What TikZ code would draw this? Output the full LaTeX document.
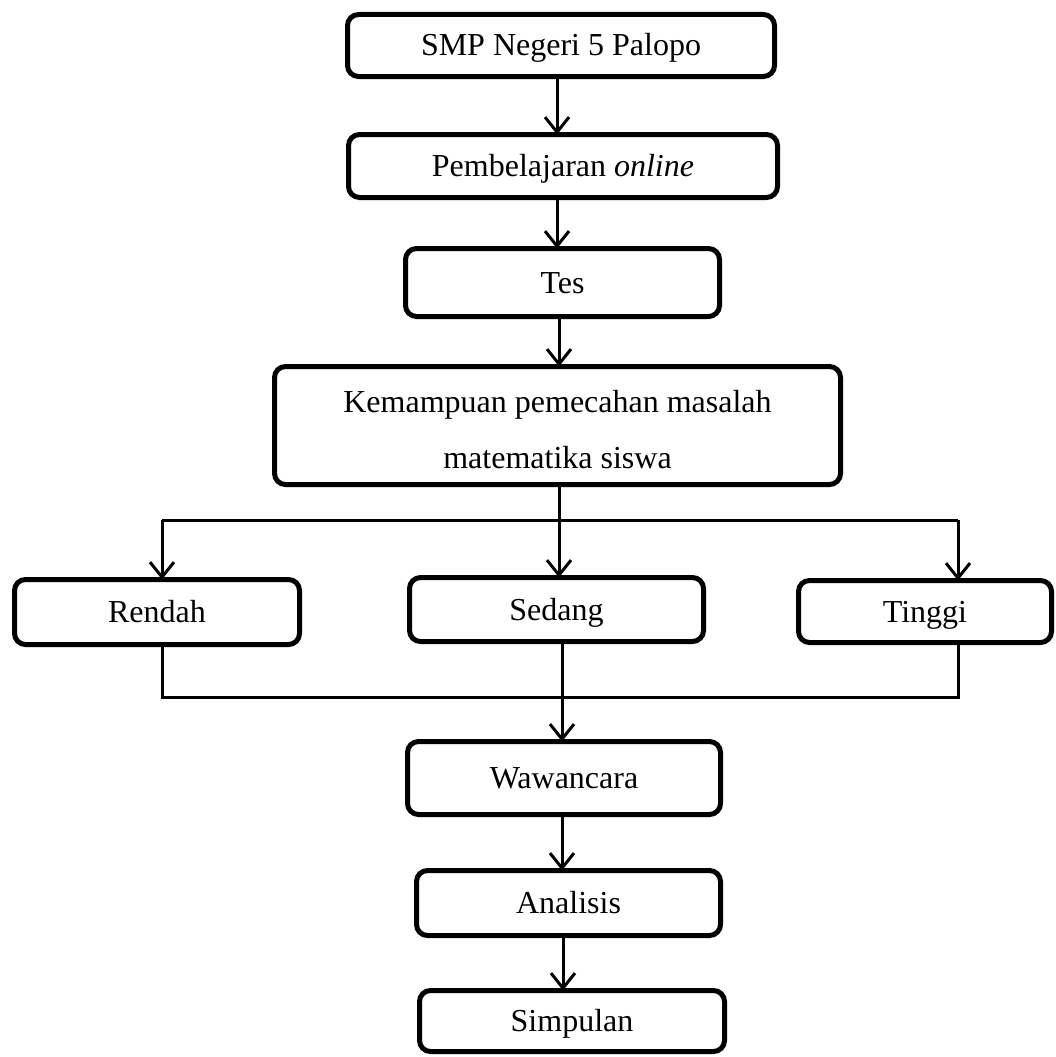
\documentclass[tikz,border=0pt]{standalone}
\usepackage{fontspec}
\setmainfont{Liberation Serif}
\usetikzlibrary{arrows.meta}
\begin{document}
\begin{tikzpicture}[x=1pt,y=-1pt,
  box/.style={draw=black, line width=5pt, rounded corners=11pt, inner sep=0pt, outer sep=0pt,
    align=center, font=\fontsize{32}{56}\selectfont, text height=21pt, text depth=0pt},
  conn/.style={draw=black, line width=3pt},
  arr/.style={conn, -{Straight Barb[length=15pt,width=24pt]}}]
\useasboundingbox (0,0) rectangle (1055,1057);
\fill[white] (0,0) rectangle (1055,1057);
\node[box, minimum width=427pt, minimum height=62pt] (smp) at (561,45.5) {SMP Negeri 5 Palopo};
\node[box, minimum width=429pt, minimum height=63pt] (pem) at (563,166) {Pembelajaran \textit{online}};
\node[box, minimum width=314pt, minimum height=68pt] (tes) at (562.5,282.5) {Tes};
\node[box, minimum width=566pt, minimum height=118pt, text height=85pt] (kem) at (557.5,425.5) {Kemampuan pemecahan masalah\\matematika siswa};
\node[box, minimum width=285pt, minimum height=65pt] (ren) at (157,612) {Rendah};
\node[box, minimum width=294pt, minimum height=64pt] (sed) at (556.5,609.5) {Sedang};
\node[box, minimum width=253pt, minimum height=62pt] (tin) at (925,611.5) {Tinggi};
\node[box, minimum width=313pt, minimum height=73pt] (waw) at (564,778) {Wawancara};
\node[box, minimum width=304pt, minimum height=65pt] (ana) at (568.5,903) {Analisis};
\node[box, minimum width=305pt, minimum height=61pt] (sim) at (572,1021) {Simpulan};
\coordinate (a1) at (557,0);
\coordinate (a3) at (559,0);
\coordinate (r1) at (162,520);
\coordinate (t1) at (958,520);
\coordinate (r2) at (162,697);
\coordinate (t2) at (958,697);
\coordinate (s2) at (562,697);
\coordinate (a6) at (563,0);
\draw[arr] (a1 |- smp.south) -- (a1 |- pem.north);
\draw[arr] (a1 |- pem.south) -- (a1 |- tes.north);
\draw[arr] (a3 |- tes.south) -- (a3 |- kem.north);
\draw[arr] (a3 |- kem.south) -- (a3 |- sed.north);
\draw[conn] (r1) -- (t1);
\draw[arr] (r1) -- (r1 |- ren.north);
\draw[arr] (t1) -- (t1 |- tin.north);
\draw[conn] (r1 |- ren.south) -- (r2) -- (t2) -- (t1 |- tin.south);
\draw[arr] (s2 |- sed.south) -- (s2 |- waw.north);
\draw[arr] (s2 |- waw.south) -- (s2 |- ana.north);
\draw[arr] (a6 |- ana.south) -- (a6 |- sim.north);
\end{tikzpicture}
\end{document}
